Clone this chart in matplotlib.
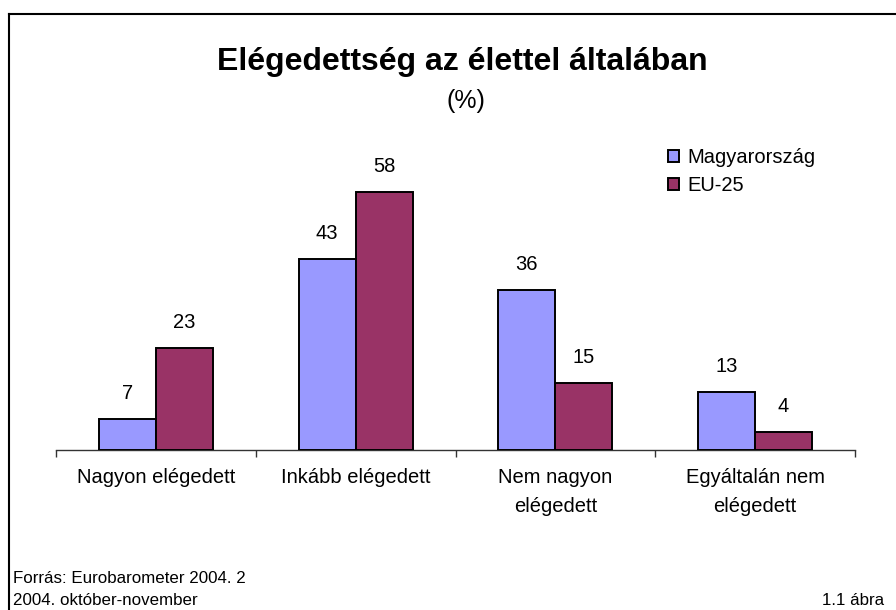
import matplotlib
matplotlib.use("Agg")
import matplotlib.pyplot as plt
from matplotlib.patches import Patch
from matplotlib.lines import Line2D
import numpy as np

categories = ["Nagyon elégedett", "Inkább elégedett", "Nem nagyon\nelégedett", "Egyáltalán nem\nelégedett"]
series_names = ["Magyarország", "EU-25"]
hungary = [7, 43, 36, 13]
eu25 = [23, 58, 15, 4]
colors = ["#9999FF", "#993366"]

title = "Elégedettség az élettel általában"
subtitle = "(%)"
source1 = "Forrás: Eurobarometer 2004. 2"
source2 = "2004. október-november"
figlabel = "1.1 ábra"

plt.rcParams['font.family'] = ['Liberation Sans', 'DejaVu Sans']

W, H = 896, 610
fig = plt.figure(figsize=(W / 100, H / 100), dpi=100)
fig.patch.set_facecolor("white")

def fx(px):
    return px / W

def fy(py):
    return 1 - py / H

# axes: left 56px, right 855px, baseline 450px, top 183px
ax = fig.add_axes([fx(56), fy(450), fx(855) - fx(56), (450 - 183) / H])
ax.set_xlim(-0.5, len(categories) - 0.5)
ax.set_ylim(0, 60)

x = np.arange(len(categories))
bw = 0.285
for vals, col, off, name in [(hungary, colors[0], -bw / 2, series_names[0]),
                             (eu25, colors[1], bw / 2, series_names[1])]:
    bars = ax.bar(x + off, vals, width=bw, color=col, edgecolor="black",
                  linewidth=1.4, label=name, zorder=3)
    for b, v in zip(bars, vals):
        ax.annotate(str(v), xy=(b.get_x() + b.get_width() / 2, b.get_height()),
                    xytext=(0, 14.5), textcoords="offset points",
                    ha="center", va="baseline", fontsize=14.5, color="black")

for s in ["top", "right", "left"]:
    ax.spines[s].set_visible(False)
ax.spines["bottom"].set_color("#333333")
ax.spines["bottom"].set_linewidth(1.0)
ax.set_yticks([])

ax.set_xticks(np.arange(len(categories) + 1) - 0.5)
ax.set_xticklabels([])
ax.tick_params(axis="x", which="major", direction="out", length=5, width=1.0, color="#333333")
ax.set_xticks(x, minor=True)
ax.set_xticklabels(categories, minor=True, fontsize=14.5, linespacing=1.65)
ax.tick_params(axis="x", which="minor", length=0, pad=13)

# legend
handles = [Patch(facecolor=colors[0], edgecolor="black", linewidth=1.4),
           Patch(facecolor=colors[1], edgecolor="black", linewidth=1.4)]
fig.legend(handles, series_names, loc="upper left",
           bbox_to_anchor=(fx(668), fy(148)), frameon=False, fontsize=14.5,
           handlelength=0.55, handleheight=0.55, handletextpad=0.4,
           labelspacing=0.45, borderaxespad=0, borderpad=0)

# titles
fig.text(fx(462), fy(70), title, ha="center", va="baseline",
         fontsize=23, fontweight="bold")
fig.text(fx(466), fy(108), subtitle, ha="center", va="baseline", fontsize=18)

# footer
fig.text(fx(13), fy(583), source1, ha="left", va="baseline", fontsize=12.2)
fig.text(fx(13), fy(605), source2, ha="left", va="baseline", fontsize=12.2)
fig.text(fx(884), fy(605), figlabel, ha="right", va="baseline", fontsize=12.2)

# frame lines (left and top)
fig.add_artist(Line2D([fx(8.5), fx(8.5)], [fy(14), 0], transform=fig.transFigure,
                      color="black", linewidth=1.5))
fig.add_artist(Line2D([fx(8.5), 1], [fy(14), fy(14)], transform=fig.transFigure,
                      color="black", linewidth=1.5))

fig.savefig("out.png", dpi=100, facecolor="white")
